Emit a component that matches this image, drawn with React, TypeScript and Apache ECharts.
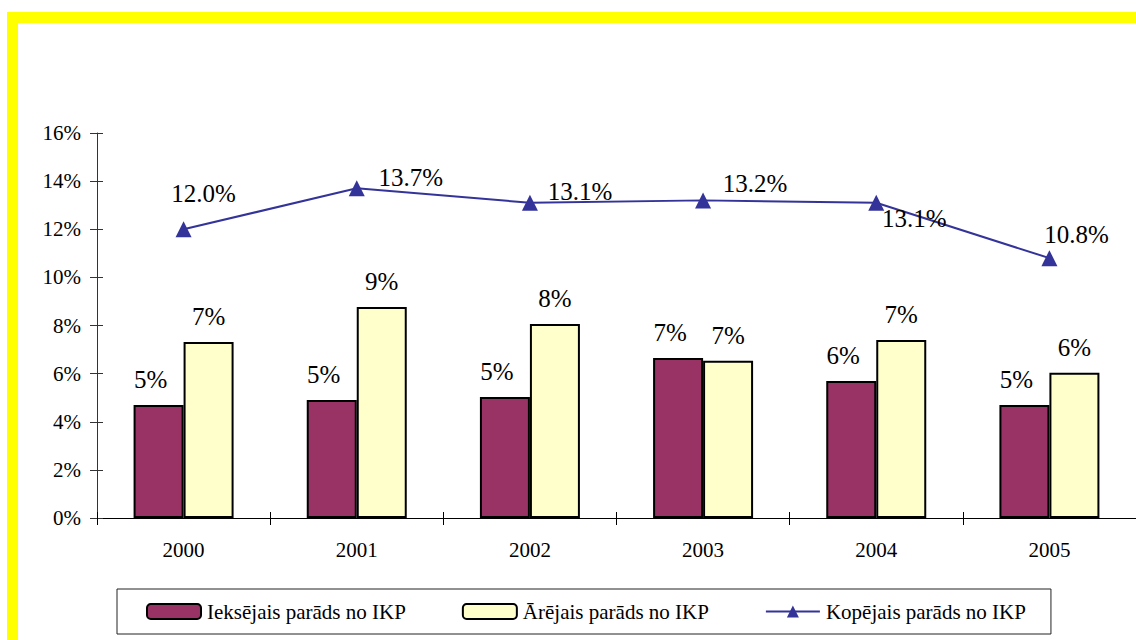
import React, { useEffect, useRef } from "react";
import * as echarts from "echarts";

const years = ["2000", "2001", "2002", "2003", "2004", "2005"];
const domesticDebt = [4.7, 4.9, 5.03, 6.65, 5.69, 4.7];
const externalDebt = [7.31, 8.77, 8.06, 6.54, 7.4, 6.04];
const totalDebt = [12.0, 13.7, 13.1, 13.2, 13.1, 10.8];
const seriesNames = ["Ieksējais parāds no IKP", "Ārējais parāds no IKP", "Kopējais parāds no IKP"];
const lineLabelOffsets: [number, number][] = [
  [20, -36],
  [54, -11],
  [50, -11],
  [52, -17],
  [38, 16],
  [27, -24],
];

const FONT = "Liberation Serif";

export default function App() {
  const ref = useRef<HTMLDivElement>(null);
  useEffect(() => {
    if (!ref.current) return;
    const chart = echarts.init(ref.current, null, { renderer: "svg" });
    const labelStyle = { fontFamily: FONT, fontSize: 25, color: "#000", fontWeight: "normal" };
    const option: any = {
      animation: false,
      backgroundColor: "#ffffff",
      textStyle: { fontFamily: FONT, color: "#000" },
      graphic: [
        { type: "rect", shape: { x: 7, y: 12, width: 1129, height: 11 }, style: { fill: "#FFFF00" }, silent: true },
        { type: "rect", shape: { x: 7, y: 12, width: 11, height: 628 }, style: { fill: "#FFFF00" }, silent: true },
      ],
      grid: { left: 97, right: 0, top: 133, bottom: 122, containLabel: false },
      legend: {
        left: 117,
        top: 589,
        itemWidth: 54,
        itemHeight: 15,
        itemGap: 56,
        padding: [12, 25, 12, 29],
        borderColor: "#222",
        borderWidth: 1,
        textStyle: { fontFamily: FONT, fontSize: 21, color: "#000", padding: [0, 0, 0, 1] },
        data: seriesNames,
        selectedMode: false,
      },
      xAxis: [
        {
          type: "category",
          data: years,
          position: "bottom",
          axisLine: { lineStyle: { color: "#000", width: 1 } },
          axisTick: { show: true, length: 7, lineStyle: { color: "#000" } },
          axisLabel: { fontFamily: FONT, fontSize: 21, color: "#000", margin: 21 },
        },
        {
          type: "category",
          data: years,
          position: "bottom",
          axisLine: { show: false },
          axisTick: { show: true, inside: true, length: 6, lineStyle: { color: "#000" } },
          axisLabel: { show: false },
        },
      ],
      yAxis: [
        {
          type: "value",
          min: 0,
          max: 16,
          interval: 2,
          position: "left",
          splitLine: { show: false },
          axisLine: { show: true, lineStyle: { color: "#333", width: 1 } },
          axisTick: { show: true, length: 7, lineStyle: { color: "#333" } },
          axisLabel: { fontFamily: FONT, fontSize: 21, color: "#000", margin: 16, formatter: "{value}%" },
        },
        {
          type: "value",
          min: 0,
          max: 16,
          interval: 2,
          position: "left",
          splitLine: { show: false },
          axisLine: { show: false },
          axisTick: { show: true, inside: true, length: 6, lineStyle: { color: "#333" } },
          axisLabel: { show: false },
        },
      ],
      series: [
        {
          name: seriesNames[0],
          type: "bar",
          data: domesticDebt,
          barWidth: 50,
          barGap: "0%",
          itemStyle: { color: "#993366", borderColor: "#000", borderWidth: 2 },
          label: {
            show: true,
            position: "top",
            distance: 13,
            offset: [-8, 0],
            ...labelStyle,
            formatter: (p: any) => Math.round(p.value) + "%",
          },
        },
        {
          name: seriesNames[1],
          type: "bar",
          data: externalDebt,
          barWidth: 50,
          barGap: "0%",
          itemStyle: { color: "#FFFFCC", borderColor: "#000", borderWidth: 2 },
          label: {
            show: true,
            position: "top",
            distance: 13,
            ...labelStyle,
            formatter: (p: any) => Math.round(p.value) + "%",
          },
        },
        {
          name: seriesNames[2],
          type: "line",
          data: totalDebt.map((v, i) => ({ value: v, label: { offset: lineLabelOffsets[i] } })),
          symbol: "triangle",
          symbolSize: [16, 16],
          lineStyle: { color: "#333399", width: 2 },
          itemStyle: { color: "#333399" },
          label: {
            show: true,
            position: "inside",
            ...labelStyle,
            formatter: (p: any) => Number(p.value).toFixed(1) + "%",
          },
          z: 5,
        },
      ],
    };
    chart.setOption(option);
    return () => chart.dispose();
  }, []);
  return (
    <div
      ref={ref}
      style={{ position: "fixed", left: 0, top: 0, width: 1136, height: 640, background: "#fff" }}
    />
  );
}
